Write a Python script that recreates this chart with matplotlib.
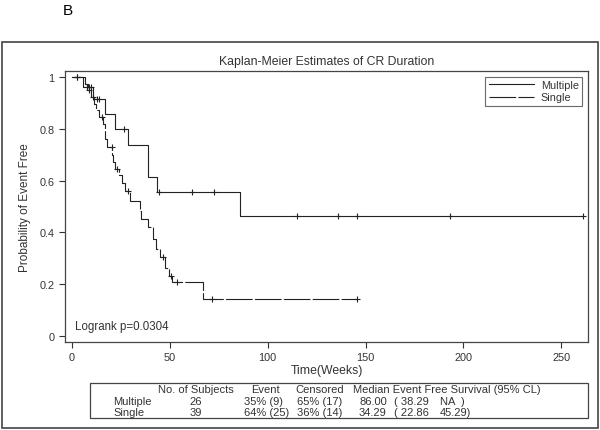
import numpy as np
import matplotlib.pyplot as plt
from matplotlib.patches import Rectangle

plt.rcParams['font.family'] = ['Liberation Sans', 'DejaVu Sans']

# Multiple group: step times / survival levels, censored times
mult_t = [0, 5.8, 10.9, 16.9, 22.0, 28.8, 38.7, 43.3, 86.0]
mult_s = [1.0, 0.962, 0.915, 0.857, 0.80, 0.737, 0.615, 0.555, 0.463]
mult_end = 261
mult_cens = [2.4, 7.5, 8.5, 9.5, 13.0, 13.8, 26.6, 44.5, 61.5, 72.6,
             115, 136, 145.6, 193, 261]

# Single group
sing_t = [0, 6.5, 8.0, 9.5, 11.0, 12.5, 14.0, 16.0, 17.0, 18.0, 20.5, 21.0,
          22.0, 24.0, 25.5, 27.0, 29.6, 34.7, 35.5, 38.7, 41.5, 43.1, 44.8,
          47.6, 49.8, 51.3, 67.1]
sing_s = [1.0, 0.974, 0.949, 0.923, 0.897, 0.871, 0.846, 0.82, 0.76, 0.73,
          0.70, 0.67, 0.645, 0.62, 0.59, 0.56, 0.522, 0.484, 0.452, 0.42,
          0.375, 0.336, 0.304, 0.261, 0.233, 0.207, 0.143]
sing_end = 145.6
sing_cens = [2.4, 8.5, 10.5, 15.2, 20.3, 23.0, 28.8, 46.5, 50.5, 53.8,
             71.5, 145.6]

x_ticks = [0, 50, 100, 150, 200, 250]
y_ticks = [0, 0.2, 0.4, 0.6, 0.8, 1]
y_ticklabels = ['0', '0.2', '0.4', '0.6', '0.8', '1']

tbl_header = ['No. of Subjects', 'Event', 'Censored',
              'Median Event Free Survival (95% CL)']
tbl_groups = ['Multiple', 'Single']
tbl_n = ['26', '39']
tbl_event = ['35% (9)', '64% (25)']
tbl_cens = ['65% (17)', '36% (14)']
tbl_median = ['86.00', '34.29']
tbl_lo = ['( 38.29', '( 22.86']
tbl_hi = ['NA  )', '45.29)']

col = '#333333'
fs_tbl = 8.0
fig = plt.figure(figsize=(6, 4.31), dpi=100)
ax = fig.add_axes([0.1083, 0.204, 0.8717, 0.629])


def level_at(times, levels, t):
    i = np.searchsorted(times, t, side='right') - 1
    return np.array(levels)[i]


ax.step(mult_t + [mult_end], mult_s + [mult_s[-1]], where='post',
        color='#222222', lw=0.8, label='Multiple')
ax.step(sing_t + [sing_end], sing_s + [sing_s[-1]], where='post',
        color='#222222', lw=0.8, dashes=(24, 2), label='Single')
ax.plot(mult_cens, level_at(mult_t, mult_s, mult_cens), '+', color='#222222',
        ms=5, mew=0.8)
ax.plot(sing_cens, level_at(sing_t, sing_s, sing_cens), '+', color='#222222',
        ms=5, mew=0.8)

ax.set_xlim(-3.6, 263.7)
ax.set_ylim(-0.023, 1.023)
ax.set_xticks(x_ticks)
ax.set_yticks(y_ticks)
ax.set_yticklabels(y_ticklabels)
ax.tick_params(colors=col, labelsize=7.8, length=4, width=0.8)
for s in ax.spines.values():
    s.set_color('#444444')
    s.set_linewidth(0.9)

ax.set_xlabel('Time(Weeks)', color=col, fontsize=8.8, labelpad=1)
ax.set_ylabel('Probability of Event Free', color=col, fontsize=8.5, labelpad=6)
ax.set_title('Kaplan-Meier Estimates of CR Duration', color=col, fontsize=8.8,
             pad=5)
ax.text(0.019, 0.059, 'Logrank p=0.0304', transform=ax.transAxes,
        fontsize=8.3, color=col, va='center')

leg = ax.legend(loc='upper right', bbox_to_anchor=(0.9885, 0.978),
                borderaxespad=0, fontsize=7.8, handlelength=4.2,
                frameon=True, fancybox=False, labelspacing=0.2,
                handletextpad=0.6, borderpad=0.3)
leg.get_frame().set_edgecolor('#444444')
leg.get_frame().set_linewidth(0.8)
for t in leg.get_texts():
    t.set_color(col)

# outer frame and table box
fig.patches.append(Rectangle((0.003, 0.005), 0.994, 0.895,
                             transform=fig.transFigure, fill=False,
                             edgecolor='#444444', lw=1.2))
fig.patches.append(Rectangle((0.15, 0.028), 0.83, 0.081,
                             transform=fig.transFigure, fill=False,
                             edgecolor='#444444', lw=0.9))

def fx(px):
    return px / 600


def fy(py):
    return 1 - py / 431


def cell(px, py, s, ha='left'):
    fig.text(fx(px), fy(py), s, ha=ha, va='center', fontsize=fs_tbl, color=col)


cell(196, 390, tbl_header[0], 'center')
cell(265, 390, tbl_header[1], 'center')
cell(319.5, 390, tbl_header[2], 'center')
cell(353, 390, tbl_header[3])
for i, py in enumerate([402, 413]):
    cell(113, py, tbl_groups[i])
    cell(196, py, tbl_n[i], 'center')
    cell(244, py, tbl_event[i])
    cell(297, py, tbl_cens[i])
    cell(359, py, tbl_median[i])
    cell(394, py, tbl_lo[i])
    cell(440, py, tbl_hi[i])

fig.text(fx(63), fy(11), 'B', fontsize=11, color='black', va='center')

fig.savefig('out.png', dpi=100)
